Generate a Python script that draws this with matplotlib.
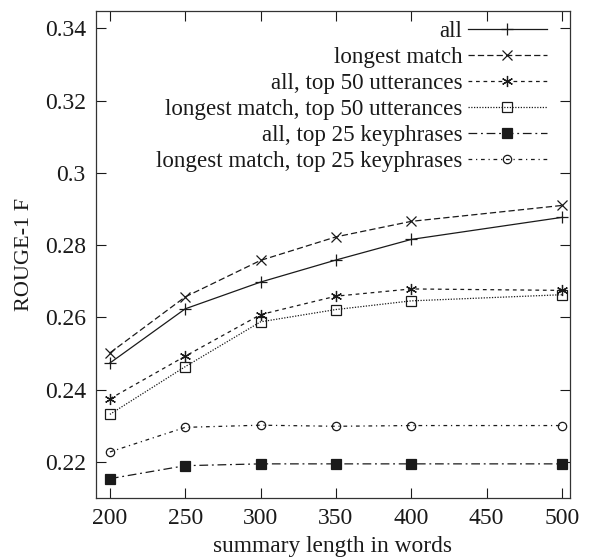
import matplotlib
matplotlib.use("Agg")
import matplotlib.pyplot as plt

plt.rcParams['font.family'] = ['Liberation Serif', 'DejaVu Serif']
plt.rcParams['mathtext.fontset'] = 'stix'

x = [200, 250, 300, 350, 400, 500]
all_vals = [0.2474, 0.2624, 0.2698, 0.2759, 0.2816, 0.2877]
lm_vals = [0.2502, 0.2657, 0.2758, 0.2823, 0.2866, 0.2910]
all_top50 = [0.2375, 0.2493, 0.2608, 0.2659, 0.2679, 0.2675]
lm_top50 = [0.2332, 0.2464, 0.2588, 0.2622, 0.2646, 0.2663]
all_top25kp = [0.2154, 0.2190, 0.2195, 0.2195, 0.2195, 0.2195]
lm_top25kp = [0.2228, 0.2296, 0.2302, 0.2299, 0.2301, 0.2301]

labels = ["all", "longest match", "all, top 50 utterances",
          "longest match, top 50 utterances", "all, top 25 keyphrases",
          "longest match, top 25 keyphrases"]
xticks = [200, 250, 300, 350, 400, 450, 500]
yticks = [0.22, 0.24, 0.26, 0.28, 0.3, 0.32, 0.34]
ytick_labels = ["0.22", "0.24", "0.26", "0.28", "0.3", "0.32", "0.34"]

fig = plt.figure(figsize=(5.9, 5.6), dpi=100)
ax = fig.add_axes([0.162, 0.111, 0.804, 0.870])

col = '#1a1a1a'
lw = 0.9
series = [
    (all_vals, '-', '+', 8, 'none'),
    (lm_vals, (0, (5, 2.5)), 'x', 7, 'none'),
    (all_top50, (0, (3, 3)), (6, 2, 0), 8, 'none'),
    (lm_top50, (0, (1, 1.2)), 's', 7, 'none'),
    (all_top25kp, (0, (7, 3, 1.5, 3)), 's', 7, col),
    (lm_top25kp, (0, (3, 3, 1, 3)), 'o', 6, 'none'),
]
for (vals, ls, mk, ms, fc), lab in zip(series, labels):
    ax.plot(x, vals, linestyle=ls, color=col, lw=lw, marker=mk, markersize=ms,
            markerfacecolor=fc, markeredgecolor=col, markeredgewidth=0.9, label=lab)

ax.set_xlim(190.5, 505.3)
ax.set_ylim(0.2101, 0.3449)
ax.set_xticks(xticks)
ax.set_yticks(yticks)
ax.set_yticklabels(ytick_labels)
ax.tick_params(direction='in', length=7, width=0.8, top=True, right=True,
               labelsize=17, colors=col, pad=7)
for s in ax.spines.values():
    s.set_linewidth(0.9)
    s.set_color('#333333')

ax.set_xlabel("summary length in words", fontsize=16.8, color=col, labelpad=5)
ax.set_ylabel("ROUGE-1 F", fontsize=16, color=col, labelpad=8)

leg = ax.legend(loc='upper right', markerfirst=False, frameon=False,
                fontsize=16.6, handlelength=3.4, handletextpad=0.25,
                labelspacing=0.21, borderaxespad=0.1, bbox_to_anchor=(0.975, 1.003))
for t in leg.get_texts():
    t.set_color(col)

fig.savefig("out.png", dpi=100)
